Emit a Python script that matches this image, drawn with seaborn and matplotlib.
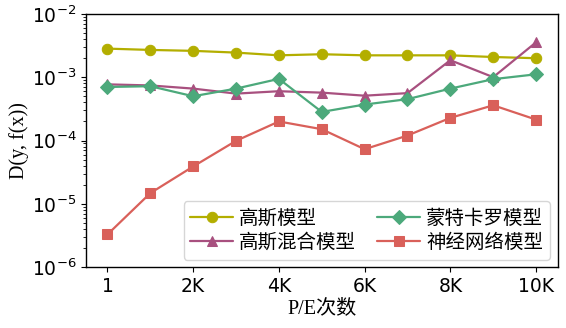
import numpy as np
import pandas as pd
import matplotlib
matplotlib.use("Agg")
import matplotlib.pyplot as plt
import seaborn as sns
from matplotlib.ticker import LogLocator

x_idx = list(range(11))
x_ticks = [0, 2, 4, 6, 8, 10]
x_ticklabels = ["1", "2K", "4K", "6K", "8K", "10K"]

gauss = [2.82e-3, 2.69e-3, 2.6e-3, 2.44e-3, 2.21e-3, 2.3e-3, 2.21e-3, 2.21e-3, 2.21e-3, 2.08e-3, 1.99e-3]
gmm = [7.7e-4, 7.4e-4, 6.6e-4, 5.5e-4, 6.0e-4, 5.7e-4, 5.1e-4, 5.6e-4, 1.85e-3, 1.0e-3, 3.55e-3]
mc = [7.0e-4, 7.2e-4, 5.0e-4, 6.6e-4, 9.4e-4, 2.83e-4, 3.7e-4, 4.5e-4, 6.6e-4, 9.3e-4, 1.11e-3]
nn = [3.3e-6, 1.48e-5, 3.9e-5, 9.9e-5, 2.0e-4, 1.51e-4, 7.3e-5, 1.2e-4, 2.28e-4, 3.6e-4, 2.14e-4]

names = ["高斯模型", "高斯混合模型", "蒙特卡罗模型", "神经网络模型"]
series = [gauss, gmm, mc, nn]
colors = ["#b3ae00", "#a8507f", "#4ca97b", "#d9605a"]
markers = ["o", "^", "D", "s"]
msizes = [7.5, 7.5, 7, 7]

sns.set_style("ticks")
plt.rcParams['font.family'] = ['DejaVu Sans', 'Noto Sans CJK SC']
plt.rcParams['text.color'] = 'black'
plt.rcParams['axes.labelcolor'] = 'black'
plt.rcParams['xtick.color'] = 'black'
plt.rcParams['ytick.color'] = 'black'

fig, ax = plt.subplots(figsize=(5.66, 3.28), dpi=100)
for name, vals, c, m, ms in zip(names, series, colors, markers, msizes):
    df = pd.DataFrame({"x": x_idx, "y": vals})
    sns.lineplot(data=df, x="x", y="y", ax=ax, color=c, marker=m, markersize=ms,
                 markeredgecolor=c, linewidth=1.6, label=name)

ax.set_yscale("log")
ax.set_ylim(1e-6, 1e-2)
ax.set_xlim(-0.5, 10.5)
ax.set_xticks(x_ticks)
ax.set_xticklabels(x_ticklabels, fontsize=13.5)
ax.tick_params(axis="y", labelsize=13.5)
ax.yaxis.set_major_locator(LogLocator(base=10, numticks=10))
ax.yaxis.set_minor_locator(LogLocator(base=10, subs=np.arange(2, 10) * 1.0, numticks=20))
ax.tick_params(axis="both", which="both", direction="out", colors="black")
for s in ax.spines.values():
    s.set_visible(True)
    s.set_linewidth(1.0)
    s.set_color("black")

ax.set_xlabel("P/E次数", fontsize=14.5, family=['Liberation Serif', 'Noto Sans CJK SC'], labelpad=2)
ax.set_ylabel("D(y, f(x))", fontsize=14.5, family=['Liberation Serif', 'Noto Sans CJK SC'], labelpad=2)

leg = ax.legend(ncol=2, loc="lower right", handlelength=2.2,
                columnspacing=1.1, handletextpad=0.3, labelspacing=0.15,
                borderaxespad=0.4, borderpad=0.35,
                prop={'family': ['Noto Sans CJK SC', 'DejaVu Sans'], 'size': 14})

fig.subplots_adjust(left=0.152, right=0.985, top=0.958, bottom=0.185)
fig.savefig("out.png", dpi=100)
